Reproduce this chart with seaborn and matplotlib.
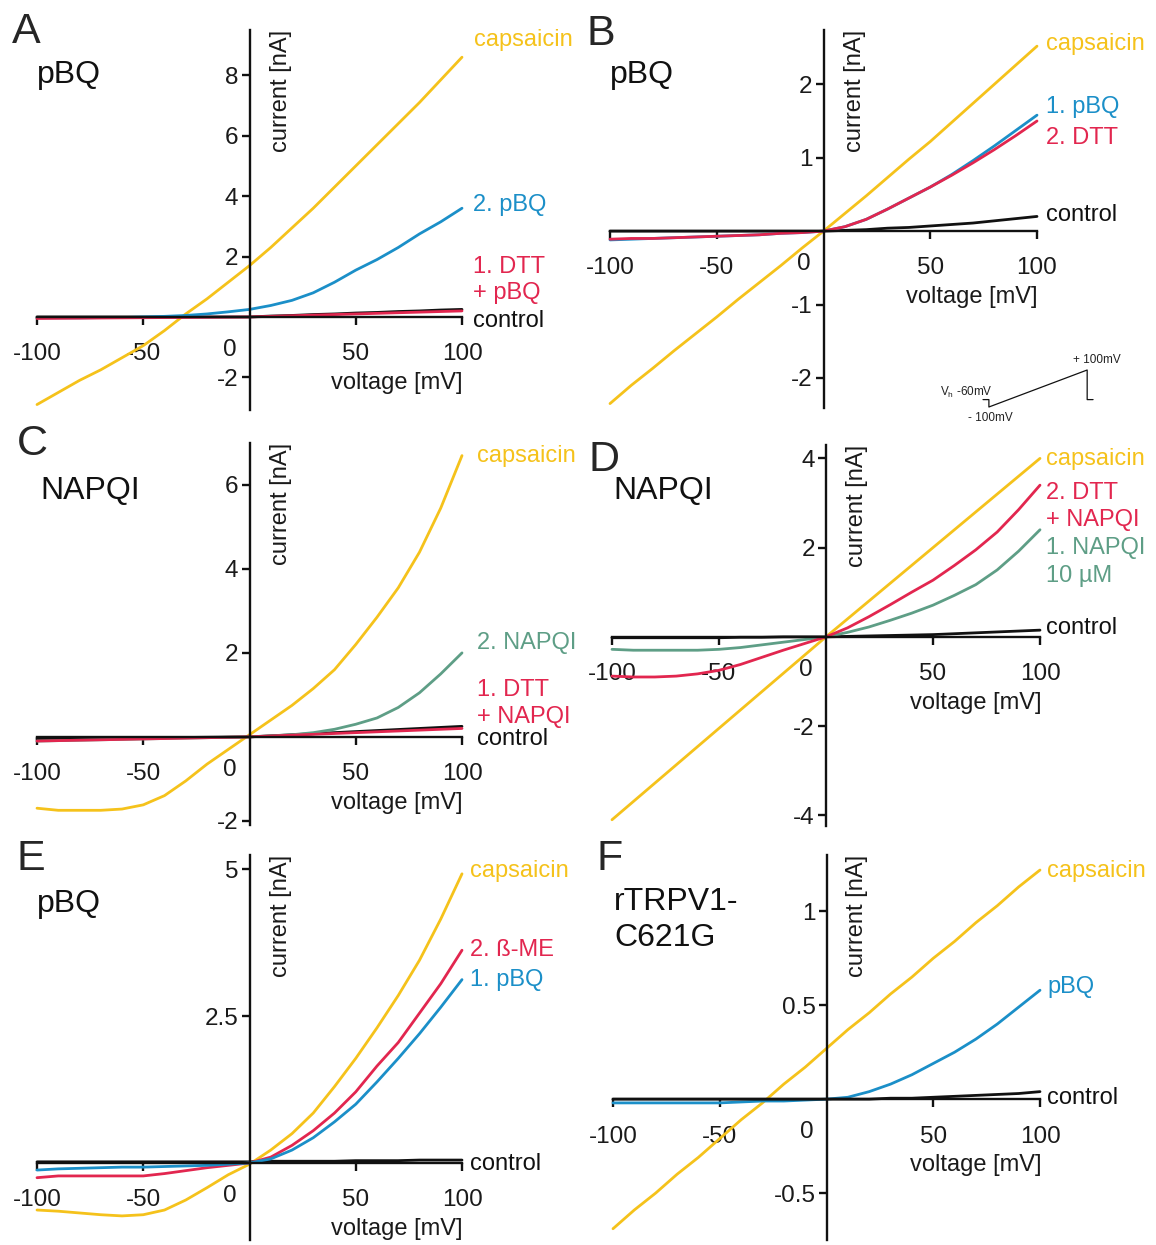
import matplotlib
matplotlib.use("Agg")
import numpy as np
import pandas as pd
import seaborn as sns
import matplotlib.pyplot as plt

sns.set_style("white")
plt.rcParams['font.family'] = ['Liberation Sans', 'DejaVu Sans']
plt.rcParams['mathtext.fontset'] = 'custom'
plt.rcParams['mathtext.rm'] = 'Liberation Sans'

W, H = 1156, 1245

# ---- data (current in nA at 10 mV steps) ----
voltage = [-100, -90, -80, -70, -60, -50, -40, -30, -20, -10, 0,
           10, 20, 30, 40, 50, 60, 70, 80, 90, 100]

# A: pBQ after DTT
a_capsaicin = [-2.9, -2.5, -2.1, -1.75, -1.35, -0.95, -0.45, 0.1, 0.6, 1.15, 1.7,
               2.3, 2.95, 3.6, 4.3, 5.0, 5.7, 6.4, 7.1, 7.85, 8.6]
a_pbq = [-0.03, -0.03, -0.03, -0.02, -0.02, 0.0, 0.02, 0.05, 0.1, 0.17, 0.25,
         0.38, 0.55, 0.8, 1.15, 1.55, 1.9, 2.3, 2.75, 3.15, 3.6]
a_dtt = [-0.05, -0.045, -0.04, -0.035, -0.03, -0.025, -0.02, -0.015, -0.01, -0.005, 0.0,
         0.02, 0.04, 0.06, 0.08, 0.1, 0.12, 0.14, 0.16, 0.18, 0.2]
a_control = [0.0, 0.0, 0.0, 0.0, 0.0, 0.0, 0.0, 0.0, 0.0, 0.0, 0.0,
             0.03, 0.05, 0.08, 0.1, 0.13, 0.15, 0.18, 0.2, 0.23, 0.25]

# B: pBQ then DTT
b_capsaicin = [-2.35, -2.1, -1.87, -1.63, -1.4, -1.17, -0.93, -0.7, -0.47, -0.23, 0.0,
               0.24, 0.48, 0.73, 0.98, 1.22, 1.48, 1.74, 2.0, 2.26, 2.52]
b_pbq = [-0.12, -0.11, -0.1, -0.09, -0.08, -0.07, -0.06, -0.05, -0.03, -0.02, 0.0,
         0.06, 0.16, 0.3, 0.45, 0.6, 0.77, 0.96, 1.16, 1.37, 1.58]
b_dtt = [-0.11, -0.1, -0.1, -0.09, -0.08, -0.07, -0.06, -0.05, -0.03, -0.02, 0.0,
         0.06, 0.16, 0.3, 0.45, 0.6, 0.76, 0.93, 1.11, 1.3, 1.5]
b_control = [0.0, 0.0, 0.0, 0.0, 0.0, 0.0, 0.0, 0.0, 0.0, 0.0, 0.0,
             0.01, 0.02, 0.04, 0.05, 0.07, 0.09, 0.11, 0.14, 0.17, 0.2]

# C: NAPQI after DTT
c_capsaicin = [-1.7, -1.75, -1.75, -1.75, -1.72, -1.62, -1.4, -1.05, -0.65, -0.3, 0.05,
               0.4, 0.75, 1.15, 1.6, 2.2, 2.85, 3.55, 4.4, 5.45, 6.7]
c_napqi = [-0.1, -0.09, -0.08, -0.07, -0.06, -0.05, -0.04, -0.03, -0.02, -0.01, 0.0,
           0.02, 0.05, 0.1, 0.18, 0.3, 0.45, 0.7, 1.05, 1.5, 2.0]
c_dtt = [-0.1, -0.09, -0.08, -0.07, -0.06, -0.05, -0.04, -0.03, -0.02, -0.01, 0.0,
         0.02, 0.04, 0.06, 0.08, 0.1, 0.12, 0.14, 0.16, 0.18, 0.2]
c_control = [-0.05, -0.045, -0.04, -0.035, -0.03, -0.025, -0.02, -0.015, -0.01, -0.005, 0.0,
             0.025, 0.05, 0.075, 0.1, 0.125, 0.15, 0.175, 0.2, 0.225, 0.25]

# D: NAPQI then DTT + NAPQI
d_capsaicin = [-4.1, -3.69, -3.28, -2.87, -2.46, -2.05, -1.64, -1.23, -0.82, -0.41, 0.0,
               0.4, 0.8, 1.2, 1.6, 2.0, 2.4, 2.8, 3.2, 3.6, 4.0]
d_dtt = [-0.88, -0.9, -0.9, -0.88, -0.83, -0.75, -0.62, -0.46, -0.3, -0.15, 0.0,
         0.2, 0.45, 0.72, 1.0, 1.27, 1.6, 1.95, 2.35, 2.85, 3.4]
d_napqi = [-0.28, -0.3, -0.3, -0.3, -0.3, -0.28, -0.24, -0.18, -0.12, -0.06, 0.0,
           0.1, 0.22, 0.37, 0.53, 0.71, 0.93, 1.17, 1.5, 1.92, 2.4]
d_control = [-0.02, -0.02, -0.02, -0.02, -0.02, -0.02, -0.01, -0.01, 0.0, 0.0, 0.0,
             0.01, 0.02, 0.03, 0.04, 0.05, 0.07, 0.09, 0.11, 0.13, 0.15]

# E: pBQ then beta-ME
e_capsaicin = [-0.8, -0.82, -0.85, -0.88, -0.9, -0.88, -0.8, -0.63, -0.42, -0.2, -0.02,
               0.22, 0.5, 0.85, 1.3, 1.78, 2.3, 2.85, 3.45, 4.15, 4.92]
e_bme = [-0.25, -0.22, -0.22, -0.22, -0.22, -0.22, -0.18, -0.13, -0.08, -0.04, 0.0,
         0.1, 0.3, 0.55, 0.85, 1.21, 1.65, 2.05, 2.55, 3.05, 3.62]
e_pbq = [-0.12, -0.1, -0.09, -0.08, -0.07, -0.07, -0.06, -0.05, -0.04, -0.02, 0.0,
         0.07, 0.22, 0.43, 0.7, 1.0, 1.38, 1.78, 2.2, 2.65, 3.12]
e_control = [0.02, 0.02, 0.02, 0.02, 0.02, 0.02, 0.02, 0.02, 0.02, 0.02, 0.02,
             0.03, 0.03, 0.03, 0.03, 0.04, 0.04, 0.04, 0.05, 0.05, 0.05]

# F: rTRPV1-C621G
f_capsaicin = [-0.69, -0.59, -0.5, -0.4, -0.31, -0.21, -0.11, -0.02, 0.08, 0.17, 0.27,
               0.37, 0.46, 0.56, 0.65, 0.75, 0.84, 0.94, 1.03, 1.13, 1.22]
f_pbq = [-0.02, -0.02, -0.02, -0.02, -0.02, -0.02, -0.015, -0.01, -0.01, -0.005, 0.0,
         0.01, 0.04, 0.08, 0.13, 0.19, 0.25, 0.32, 0.4, 0.49, 0.58]
f_control = [0.0, 0.0, 0.0, 0.0, 0.0, 0.0, 0.0, 0.0, 0.0, 0.0, 0.0,
             0.0, 0.0, 0.005, 0.005, 0.01, 0.015, 0.02, 0.025, 0.03, 0.04]

# voltage protocol shown as inset in B
protocol_t = [0, 30, 30, 530, 530, 560]
protocol_v = [-60, -60, -100, 100, -60, -60]

YELLOW = '#F5C21B'
BLUE = '#1B8FC8'
RED = '#E2264F'
GREEN = '#5E9E86'
BLACK = '#111111'

fig = plt.figure(figsize=(W / 100, H / 100), dpi=100)


def fx(px):
    return px / W


def fy(py):
    return 1 - py / H


def draw_panel(box, ylim, yticks, yticklabels, traces):
    # box = pixel extent (left, right, top, bottom) of the axes
    x0, x1, y0, y1 = box
    ax = fig.add_axes([fx(x0), fy(y1), (x1 - x0) / W, (y1 - y0) / H])
    ax.patch.set_alpha(0)
    rows = []
    for name, vals, col in traces:
        for v, i in zip(voltage, vals):
            rows.append({'voltage': v, 'current': i, 'trace': name})
    df = pd.DataFrame(rows)
    pal = {name: col for name, vals, col in traces}
    sns.lineplot(data=df, x='voltage', y='current', hue='trace', palette=pal,
                 hue_order=[t[0] for t in traces], legend=False, ax=ax,
                 linewidth=2.0, clip_on=False)
    ax.set_xlim(-100, 100)
    ax.set_ylim(*ylim)
    ax.set_xlabel('')
    ax.set_ylabel('')
    for s in ['top', 'right']:
        ax.spines[s].set_visible(False)
    for s in ['left', 'bottom']:
        ax.spines[s].set_position(('data', 0))
        ax.spines[s].set_linewidth(1.7)
        ax.spines[s].set_color(BLACK)
        ax.spines[s].set_zorder(3)
    ax.set_xticks([-100, -50, 50, 100])
    ax.set_xticklabels(['-100', '-50', '50', '100'])
    ax.set_yticks(yticks)
    ax.set_yticklabels(yticklabels)
    ax.tick_params(axis='both', direction='out', length=6, width=1.7,
                   color=BLACK, labelsize=17.5, labelcolor='#1a1a1a',
                   bottom=True, left=True)
    ax.tick_params(axis='x', pad=13)
    ax.tick_params(axis='y', pad=2)

    # shared "0" label, axis titles
    ox = x0 + (x1 - x0) / 2
    zero_y = y0 + (y1 - y0) * ylim[1] / (ylim[1] - ylim[0])
    fig.text(fx(ox - 20), fy(zero_y + 33), '0', fontsize=17.5, color='#1a1a1a',
             ha='center', va='center')
    fig.text(fx(ox + 31), fy(y0), 'current [nA]', fontsize=17, rotation=90,
             ha='center', va='top', color='#1a1a1a')
    fig.text(fx(x1 + 1), fy(zero_y + 66), 'voltage [mV]', fontsize=17,
             ha='right', va='center', color='#1a1a1a')
    return ax


def label(px, py, s, col, size=17):
    fig.text(fx(px), fy(py), s, fontsize=size, color=col, ha='left', va='center')


# Panel A
draw_panel((37, 462, 30, 410), (-3.08, 9.5), [-2, 2, 4, 6, 8],
           ['-2', '2', '4', '6', '8'],
           [('capsaicin', a_capsaicin, YELLOW), ('control', a_control, BLACK),
            ('2. pBQ', a_pbq, BLUE), ('1. DTT + pBQ', a_dtt, RED)])
label(474, 40, 'capsaicin', YELLOW)
label(473, 205, '2. pBQ', BLUE)
label(473, 267, '1. DTT', RED)
label(473, 293, '+ pBQ', RED)
label(473, 321, 'control', BLACK)
fig.text(fx(12), fy(32), 'A', fontsize=31, ha='left', va='center')
label(37, 75, 'pBQ', BLACK, 23)

# Panel B
draw_panel((610, 1037, 30, 408), (-2.41, 2.74), [-2, -1, 1, 2],
           ['-2', '-1', '1', '2'],
           [('capsaicin', b_capsaicin, YELLOW), ('control', b_control, BLACK),
            ('1. pBQ', b_pbq, BLUE), ('2. DTT', b_dtt, RED)])
label(1046, 44, 'capsaicin', YELLOW)
label(1046, 107, '1. pBQ', BLUE)
label(1046, 138, '2. DTT', RED)
label(1046, 215, 'control', BLACK)
fig.text(fx(586), fy(34), 'B', fontsize=31, ha='left', va='center')
label(610, 75, 'pBQ', BLACK, 23)

# voltage protocol inset
ins = fig.add_axes([fx(983), fy(407), (1097 - 983) / W, (407 - 370) / H])
ins.axis('off')
sns.lineplot(x=protocol_t, y=protocol_v, ax=ins, color=BLACK, linewidth=0.9,
             sort=False, estimator=None, clip_on=False)
ins.set_xlim(protocol_t[0], protocol_t[-1] + 20)
ins.set_ylim(-100, 100)
fig.text(fx(993), fy(392), r'V$_{\rm h}$ -60mV', fontsize=8.5, ha='right', va='center', color='#222222')
fig.text(fx(1097), fy(360), '+ 100mV', fontsize=8.5, ha='center', va='center', color='#222222')
fig.text(fx(990), fy(418), '- 100mV', fontsize=8.5, ha='center', va='center', color='#222222')

# Panel C
draw_panel((37, 462, 443, 825), (-2.1, 7.0), [-2, 2, 4, 6],
           ['-2', '2', '4', '6'],
           [('capsaicin', c_capsaicin, YELLOW), ('control', c_control, BLACK),
            ('2. NAPQI', c_napqi, GREEN), ('1. DTT + NAPQI', c_dtt, RED)])
label(477, 456, 'capsaicin', YELLOW)
label(477, 643, '2. NAPQI', GREEN)
label(477, 690, '1. DTT', RED)
label(477, 717, '+ NAPQI', RED)
label(477, 739, 'control', BLACK)
fig.text(fx(17), fy(444), 'C', fontsize=31, ha='left', va='center')
label(40, 491, 'NAPQI', BLACK, 23)

# Panel D
draw_panel((612, 1040, 445, 826), (-4.24, 4.3), [-4, -2, 2, 4],
           ['-4', '-2', '2', '4'],
           [('capsaicin', d_capsaicin, YELLOW), ('control', d_control, BLACK),
            ('1. NAPQI 10 µM', d_napqi, GREEN), ('2. DTT + NAPQI', d_dtt, RED)])
label(1046, 459, 'capsaicin', YELLOW)
label(1046, 493, '2. DTT', RED)
label(1046, 520, '+ NAPQI', RED)
label(1046, 548, '1. NAPQI', GREEN)
label(1046, 576, '10 µM', GREEN)
label(1046, 628, 'control', BLACK)
fig.text(fx(589), fy(460), 'D', fontsize=31, ha='left', va='center')
label(613, 491, 'NAPQI', BLACK, 23)

# Panel E
draw_panel((37, 462, 855, 1240), (-1.31, 5.24), [2.5, 5],
           ['2.5', '5'],
           [('capsaicin', e_capsaicin, YELLOW), ('control', e_control, BLACK),
            ('2. ß-ME', e_bme, RED), ('1. pBQ', e_pbq, BLUE)])
label(470, 871, 'capsaicin', YELLOW)
label(470, 950, '2. ß-ME', RED)
label(470, 980, '1. pBQ', BLUE)
label(470, 1164, 'control', BLACK)
fig.text(fx(17), fy(859), 'E', fontsize=31, ha='left', va='center')
label(37, 904, 'pBQ', BLACK, 23)

# Panel F
draw_panel((613, 1040, 855, 1240), (-0.75, 1.30), [-0.5, 0.5, 1],
           ['-0.5', '0.5', '1'],
           [('capsaicin', f_capsaicin, YELLOW), ('pBQ', f_pbq, BLUE),
            ('control', f_control, BLACK)])
label(1047, 871, 'capsaicin', YELLOW)
label(1047, 987, 'pBQ', BLUE)
label(1047, 1098, 'control', BLACK)
fig.text(fx(596), fy(859), 'F', fontsize=31, ha='left', va='center')
label(614, 902, 'rTRPV1-', BLACK, 23)
label(614, 938, 'C621G', BLACK, 23)

fig.savefig('out.png', dpi=100)
